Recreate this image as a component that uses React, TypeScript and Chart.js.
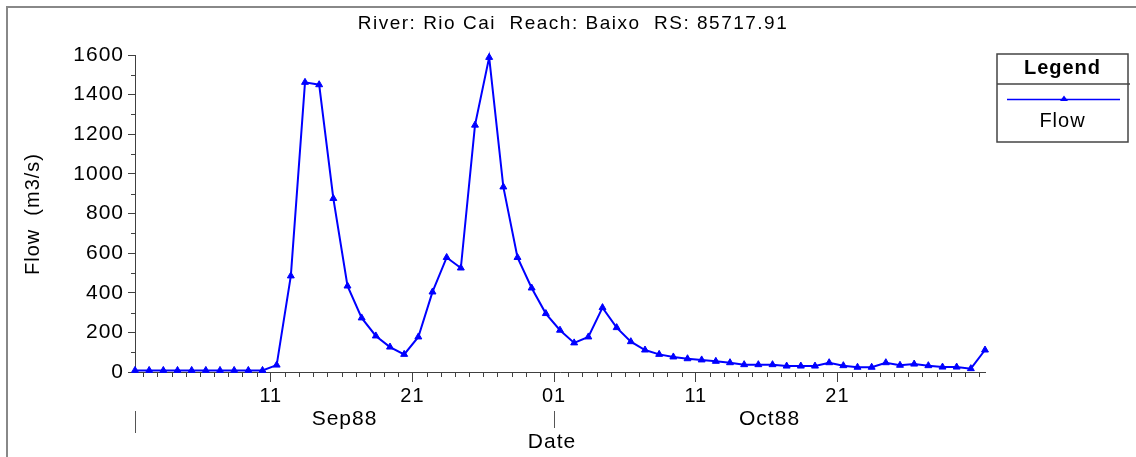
import React, { useEffect, useRef } from "react";
import { Chart, registerables } from "chart.js";

Chart.register(...registerables);

const TITLE = "River: Rio Cai  Reach: Baixo  RS: 85717.91";
const SERIES_LABEL = "Flow";
const Y_AXIS_TITLE = "Flow  (m3/s)";
const X_AXIS_TITLE = "Date";
const LEGEND_TITLE = "Legend";

const START_YEAR = 1988;
const START_MONTH = 8; // September (0-based)
const SAMPLE_HOUR = 10;

const MONTH_LABELS = ["Sep88", "Oct88"];

// Daily flow, 01 Sep 1988 .. 31 Oct 1988
const FLOW = [
  8, 8, 8, 8, 8, 8, 8, 8, 8, 8,
  35, 485, 1462, 1450, 876, 434, 273, 182, 126, 89,
  177, 404, 578, 525, 1246, 1588, 934, 578, 424, 295,
  211, 147, 177, 325, 224, 153, 111, 89, 76, 67,
  61, 54, 47, 37, 37, 37, 30, 30, 30, 47,
  32, 24, 24, 47, 34, 40, 32, 25, 25, 17, 111,
];

// x tick positions: days after 01 Sep 1988 00:00
const X_TICK_DAYS = [10, 20, 30, 40, 50];
const Y_MIN = 0;
const Y_MAX = 1600;
const Y_STEP = 200;
const Y_MINOR_STEP = 100;

const FONT = "'Liberation Sans', Arial, sans-serif";
const BLUE = "#0000ff";
const AXIS = "#404040";

const dayToDate = (d: number) => new Date(START_YEAR, START_MONTH, 1 + d);
const two = (n: number) => String(n).padStart(2, "0");
const monthStartDay = (i: number) =>
  Math.round((Date.UTC(START_YEAR, START_MONTH + i, 1) - Date.UTC(START_YEAR, START_MONTH, 1)) / 86400000);

const decor = {
  id: "decor",
  beforeDraw(chart: any) {
    const ctx = chart.ctx;
    ctx.save();
    ctx.fillStyle = "#ffffff";
    ctx.fillRect(0, 0, chart.width, chart.height);
    ctx.restore();
    ctx.letterSpacing = "1px";
  },
  afterDraw(chart: any) {
    const ctx = chart.ctx;
    const xs = chart.scales.x;
    const ys = chart.scales.y;
    const area = chart.chartArea;
    ctx.save();

    // outer frame (top and left)
    ctx.strokeStyle = "#888888";
    ctx.lineWidth = 2;
    ctx.beginPath();
    ctx.moveTo(7, chart.height);
    ctx.lineTo(7, 7);
    ctx.lineTo(chart.width, 7);
    ctx.stroke();

    ctx.fillStyle = "#000";
    // title
    ctx.font = `19px ${FONT}`;
    ctx.letterSpacing = "1.5px";
    ctx.textAlign = "center";
    ctx.textBaseline = "alphabetic";
    ctx.fillText(TITLE, 573, 29);

    // y title
    ctx.letterSpacing = "1px";
    ctx.font = `20px ${FONT}`;
    ctx.save();
    ctx.translate(39, 214);
    ctx.rotate(-Math.PI / 2);
    ctx.fillText(Y_AXIS_TITLE, 0, 0);
    ctx.restore();

    // minor y ticks
    ctx.strokeStyle = AXIS;
    ctx.lineWidth = 1;
    ctx.beginPath();
    for (let v = Y_MIN + Y_MINOR_STEP; v < Y_MAX; v += Y_STEP) {
      const y = Math.round(ys.getPixelForValue(v)) + 0.5;
      ctx.moveTo(area.left - 4, y);
      ctx.lineTo(area.left, y);
    }
    // minor x ticks
    for (let d = Math.ceil(xs.min); d <= xs.max; d++) {
      if (X_TICK_DAYS.includes(d)) continue;
      const x = Math.round(xs.getPixelForValue(d)) + 0.5;
      ctx.moveTo(x, area.bottom);
      ctx.lineTo(x, area.bottom + 5);
    }
    ctx.stroke();

    // month labels and boundary marks
    ctx.font = `21px ${FONT}`;
    ctx.strokeStyle = "#555";
    MONTH_LABELS.forEach((label, i) => {
      const s = Math.max(monthStartDay(i), xs.min);
      const e = Math.min(monthStartDay(i + 1), xs.max);
      const x0 = xs.getPixelForValue(s);
      const x1 = xs.getPixelForValue(e);
      ctx.beginPath();
      const mx = Math.round(x0) + 0.5;
      ctx.moveTo(mx, 411);
      ctx.lineTo(mx, 433);
      ctx.stroke();
      ctx.fillText(label, (x0 + x1) / 2, 425);
    });

    // x title
    ctx.fillStyle = "#fff";
    const dx = (area.left + area.right) / 2 - 8;
    ctx.fillRect(dx - 26, 428, 52, 24);
    ctx.fillStyle = "#000";
    ctx.fillText(X_AXIS_TITLE, dx, 448);

    // legend box
    const L = 997, T = 54, R = 1128, B = 142;
    ctx.strokeStyle = "#444";
    ctx.lineWidth = 1.5;
    ctx.strokeRect(L, T, R - L, B - T);
    ctx.beginPath();
    ctx.moveTo(L, 84);
    ctx.lineTo(R + 2, 84);
    ctx.stroke();
    ctx.font = `bold 20px ${FONT}`;
    ctx.fillText(LEGEND_TITLE, (L + R) / 2, 74);
    ctx.strokeStyle = BLUE;
    ctx.lineWidth = 1.5;
    ctx.beginPath();
    ctx.moveTo(1007, 99.5);
    ctx.lineTo(1120, 99.5);
    ctx.stroke();
    ctx.fillStyle = BLUE;
    ctx.beginPath();
    ctx.moveTo(1064, 95.5);
    ctx.lineTo(1068, 101);
    ctx.lineTo(1060, 101);
    ctx.closePath();
    ctx.fill();
    ctx.fillStyle = "#000";
    ctx.font = `20px ${FONT}`;
    ctx.fillText(SERIES_LABEL, (L + R) / 2, 127);

    ctx.restore();
  },
};

export default function App() {
  const ref = useRef<HTMLCanvasElement | null>(null);
  useEffect(() => {
    document.body.style.margin = "0";
    const canvas = ref.current!;
    const data = FLOW.map((v, i) => ({ x: i + SAMPLE_HOUR / 24, y: v }));
    const chart = new Chart(canvas, {
      type: "line",
      data: {
        datasets: [
          {
            label: SERIES_LABEL,
            data,
            borderColor: BLUE,
            backgroundColor: BLUE,
            borderWidth: 2,
            pointStyle: "triangle",
            pointRadius: 4,
            pointBorderWidth: 1,
            pointBorderColor: BLUE,
            pointBackgroundColor: BLUE,
            tension: 0,
            clip: false as any,
          },
        ],
      },
      options: {
        animation: false,
        responsive: false,
        events: [],
        layout: { autoPadding: false, padding: { left: 0, top: 55, right: 151, bottom: 0 } },
        plugins: { legend: { display: false }, title: { display: false }, tooltip: { enabled: false } },
        scales: {
          x: {
            type: "linear",
            min: SAMPLE_HOUR / 24,
            max: FLOW.length - 1 + SAMPLE_HOUR / 24,
            afterBuildTicks: (s: any) => {
              s.ticks = X_TICK_DAYS.map((v) => ({ value: v }));
            },
            afterFit: (s: any) => {
              s.height = 85;
            },
            ticks: {
              autoSkip: false,
              maxRotation: 0,
              padding: 2,
              color: "#000",
              font: { family: FONT, size: 20 },
              callback: (v: any) => two(dayToDate(Number(v)).getDate()),
            },
            grid: { drawOnChartArea: false, drawTicks: true, tickLength: 10, color: AXIS, lineWidth: 1 },
            border: { color: AXIS, width: 1 },
          },
          y: {
            type: "linear",
            min: Y_MIN,
            max: Y_MAX,
            afterFit: (s: any) => {
              s.width = 135;
            },
            ticks: {
              stepSize: Y_STEP,
              padding: 4,
              color: "#000",
              font: { family: FONT, size: 21 },
              callback: (v: any) => String(v),
            },
            grid: { drawOnChartArea: false, drawTicks: true, tickLength: 7, color: AXIS, lineWidth: 1 },
            border: { color: AXIS, width: 1 },
          },
        },
      },
      plugins: [decor],
    });
    return () => chart.destroy();
  }, []);
  return (
    <canvas
      ref={ref}
      width={1136}
      height={457}
      style={{ position: "absolute", left: 0, top: 0, display: "block", width: 1136, height: 457 }}
    />
  );
}
